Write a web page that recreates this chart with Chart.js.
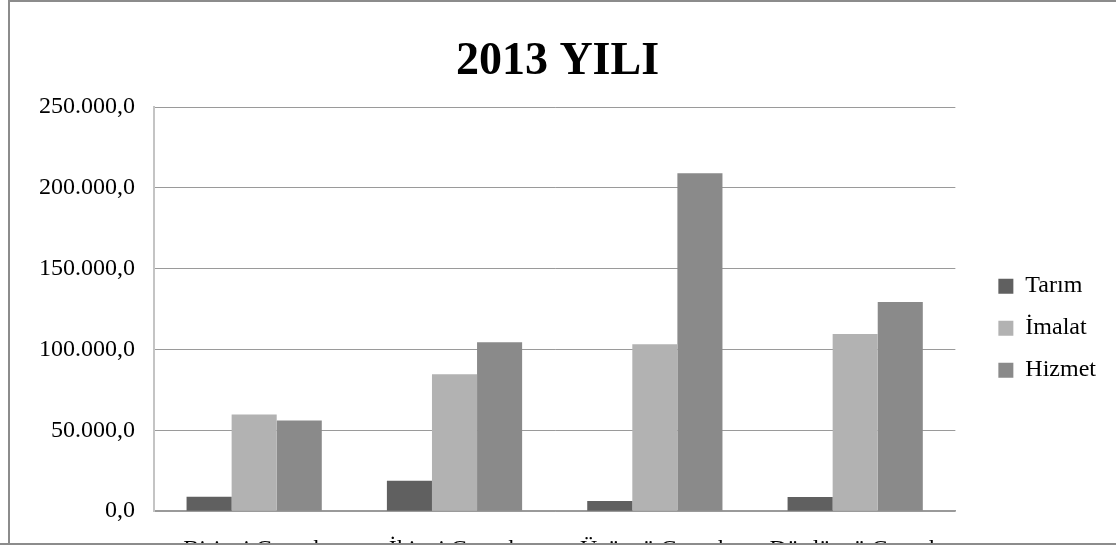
<!DOCTYPE html>
<html>
<head>
<meta charset="utf-8">
<script src="https://cdn.jsdelivr.net/npm/chart.js@4/dist/chart.umd.min.js"></script>
<style>
    html, body { margin: 0; padding: 0; background: #fff; }
    #wrap { width: 1116px; height: 546px; overflow: hidden; }
</style>
</head>
<body>
<div id="wrap">
    <canvas id="ceyrek-chart" width="1116" height="588"></canvas>
</div>
<script>
const quarters = ['Birinci Çeyrek', 'İkinci Çeyrek', 'Üçüncü Çeyrek', 'Dördüncü Çeyrek'];
const tarim = [9000, 18800, 6300, 8800];
const imalat = [59800, 84700, 103300, 109600];
const hizmet = [56200, 104600, 209100, 129500];

const serif = 'Liberation Serif, Times New Roman, serif';

// 250000 -> "250.000,0"
function formatTr(v) {
    const s = Math.round(v).toString().replace(/\B(?=(\d{3})+(?!\d))/g, '.');
    return s + ',0';
}

// outer frame of the chart object; the bottom edge cuts the category labels
const framePlugin = {
    id: 'frame',
    afterDraw(chart) {
        const c = chart.ctx;
        c.save();
        c.fillStyle = '#ffffff';
        c.fillRect(0, 545, chart.width, chart.height - 545);
        c.strokeStyle = '#8c8c8c';
        c.lineWidth = 2;
        c.beginPath();
        c.moveTo(9, 545);
        c.lineTo(9, 1);
        c.lineTo(chart.width, 1);
        c.moveTo(0, 544);
        c.lineTo(chart.width, 544);
        c.stroke();
        c.restore();
    }
};

const ctx = document.getElementById('ceyrek-chart').getContext('2d');

const myChart = new Chart(ctx, {
    type: 'bar',
    data: {
        labels: quarters,
        datasets: [
            { label: 'Tarım', data: tarim, backgroundColor: '#606060' },
            { label: 'İmalat', data: imalat, backgroundColor: '#b2b2b2' },
            { label: 'Hizmet', data: hizmet, backgroundColor: '#8a8a8a' }
        ]
    },
    options: {
        responsive: false,
        animation: false,
        layout: { padding: { left: 9, right: 10, top: 0, bottom: 0 } },
        datasets: {
            bar: { categoryPercentage: 0.675, barPercentage: 1.0 }
        },
        plugins: {
            title: {
                display: true,
                text: '2013 YILI',
                color: '#000',
                font: { family: serif, size: 46, weight: 'bold' },
                padding: { top: 35, bottom: 17 }
            },
            legend: {
                position: 'right',
                align: 'center',
                fullSize: false,
                title: { display: true, text: ' ', font: { size: 12 }, padding: { top: 23.6, bottom: 0 } },
                labels: {
                    color: '#000',
                    font: { family: serif, size: 24 },
                    boxWidth: 15,
                    boxHeight: 15,
                    padding: 18
                }
            },
            tooltip: { enabled: false }
        },
        scales: {
            x: {
                grid: { display: false, drawTicks: false },
                border: { display: true, color: '#9a9a9a', width: 1.5 },
                ticks: {
                    color: '#000',
                    font: { family: serif, size: 24 },
                    padding: 24,
                    maxRotation: 0,
                    autoSkip: false
                }
            },
            y: {
                min: 0,
                max: 250000,
                grid: { color: '#9a9a9a', lineWidth: 1, drawTicks: false },
                border: { display: true, color: '#c4c4c4', width: 2 },
                ticks: {
                    stepSize: 50000,
                    color: '#000',
                    font: { family: serif, size: 24 },
                    padding: 19,
                    callback: (v) => formatTr(v)
                },
                afterFit(scale) { scale.width = 145; }
            },
            // empty gap between plot area and legend
            gap: {
                type: 'linear',
                position: 'right',
                display: true,
                grid: { display: false, drawTicks: false },
                border: { display: false },
                ticks: { display: false },
                afterFit(scale) { scale.width = 25; }
            }
        }
    },
    plugins: [framePlugin]
});
</script>
</body>
</html>
